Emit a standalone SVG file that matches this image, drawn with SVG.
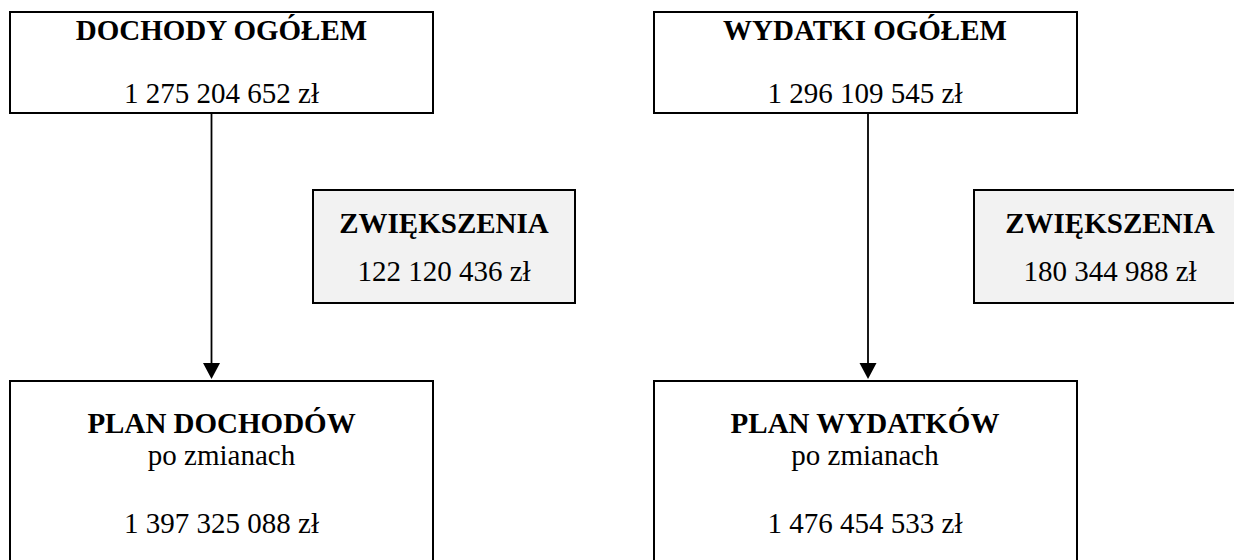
<svg xmlns="http://www.w3.org/2000/svg" width="1234" height="560" viewBox="0 0 1234 560">
<style>
.box{fill:#ffffff;stroke:#000000;stroke-width:2}
.inc{fill:#f2f2f2;stroke:#000000;stroke-width:2}
text{font-family:"Liberation Serif","Times New Roman",serif;font-size:29px;fill:#000000;text-anchor:middle}
.b{font-weight:bold}
.conn{stroke:#000000;stroke-width:1.8;fill:none}
.head{fill:#000000}
</style>
<rect width="1234" height="560" fill="#ffffff"/>
<g id="connectors">
<line class="conn" x1="211.5" y1="113" x2="211.5" y2="365"/>
<polygon class="head" points="203,363 220,363 211.5,379"/>
<line class="conn" x1="868" y1="113" x2="868" y2="365"/>
<polygon class="head" points="859.5,363 876.5,363 868,379"/>
</g>
<g id="dochody-ogolem">
<rect class="box" x="10" y="12" width="423" height="101"/>
<text class="b" x="221.5" y="40">DOCHODY OGÓŁEM</text>
<text x="221.5" y="103">1 275 204 652 zł</text>
</g>
<g id="wydatki-ogolem">
<rect class="box" x="654" y="12" width="423" height="101"/>
<text class="b" x="865" y="40">WYDATKI OGÓŁEM</text>
<text x="865" y="103">1 296 109 545 zł</text>
</g>
<g id="zwiekszenia-dochody">
<rect class="inc" x="313" y="190" width="262" height="113"/>
<text class="b" x="444" y="233">ZWIĘKSZENIA</text>
<text x="444" y="281">122 120 436 zł</text>
</g>
<g id="zwiekszenia-wydatki">
<rect class="inc" x="974" y="190" width="276" height="113"/>
<text class="b" x="1110" y="233">ZWIĘKSZENIA</text>
<text x="1110" y="281">180 344 988 zł</text>
</g>
<g id="plan-dochodow">
<rect class="box" x="10" y="381" width="423" height="200"/>
<text class="b" x="221.5" y="433">PLAN DOCHODÓW</text>
<text x="221.5" y="465">po zmianach</text>
<text x="221.5" y="533">1 397 325 088 zł</text>
</g>
<g id="plan-wydatkow">
<rect class="box" x="654" y="381" width="423" height="200"/>
<text class="b" x="865" y="433">PLAN WYDATKÓW</text>
<text x="865" y="465">po zmianach</text>
<text x="865" y="533">1 476 454 533 zł</text>
</g>
</svg>
